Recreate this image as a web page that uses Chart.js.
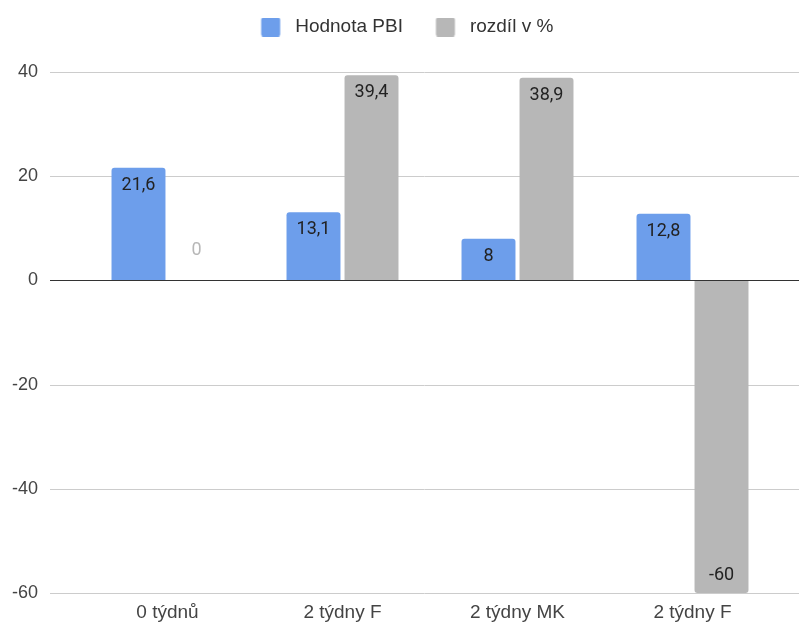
<!DOCTYPE html>
<html lang="cs">
<head>
<meta charset="utf-8">
<title>Hodnota PBI a rozdíl v %</title>
<script src="https://cdn.jsdelivr.net/npm/chart.js@4/dist/chart.umd.min.js"></script>
<style>
  html, body { margin: 0; padding: 0; background: #ffffff; }
  #wrap { width: 799px; height: 625px; }
</style>
</head>
<body>
<div id="wrap"><canvas id="chart" width="799" height="625"></canvas></div>
<script>
// Data
const categories = ['0 týdnů', '2 týdny F', '2 týdny MK', '2 týdny F'];
const hodnotaPBI = [21.6, 13.1, 8, 12.8];
const rozdilProcent = [0, 39.4, 38.9, -60];
const seriesNames = ['Hodnota PBI', 'rozdíl v %'];
const yRange = { min: -60, max: 40, step: 20 };

// Styles
const BLUE = '#6d9eeb';
const GRAY = '#b7b7b7';
const GRID_COLOR = '#cccccc';
const ZERO_COLOR = '#333333';
const GRID_LEFT = 50;
const SANS = "'Liberation Sans', Arial, sans-serif";
const LEGEND_MARKER_W = 40;    // room reserved for each legend marker
const LEGEND_GAP_BELOW = 25.5; // extra space between legend and plot

const formatValue = v => String(v).replace('.', ',');

// Legend markers: a rounded square placed at the right side of the marker slot
function swatch(color) {
  const c = document.createElement('canvas');
  c.width = LEGEND_MARKER_W; c.height = 19;
  const g = c.getContext('2d');
  g.fillStyle = color;
  g.beginPath();
  g.roundRect(15.5, 0, 19, 19, 2);
  g.fill();
  return c;
}
const swatches = [swatch(BLUE), swatch(GRAY)];

// Leaves extra room under the legend
const legendSpacing = {
  id: 'legendSpacing',
  afterInit(chart) {
    const legend = chart.legend;
    const fit = legend.fit;
    legend.fit = function () {
      fit.call(this);
      this.height += LEGEND_GAP_BELOW;
    };
  }
};

// Horizontal grid lines across the full plot width, zero line on top of the bars
const gridLines = {
  id: 'gridLines',
  beforeDatasetsDraw(chart) {
    const { ctx, scales: { y }, width } = chart;
    ctx.save();
    ctx.strokeStyle = GRID_COLOR;
    ctx.lineWidth = 1;
    y.ticks.forEach(t => {
      if (t.value === 0) return;
      const py = Math.round(y.getPixelForValue(t.value)) + 0.5;
      ctx.beginPath();
      ctx.moveTo(GRID_LEFT, py);
      ctx.lineTo(width, py);
      ctx.stroke();
    });
    ctx.restore();
  },
  afterDatasetsDraw(chart) {
    const { ctx, scales: { y }, width } = chart;
    const py = Math.round(y.getPixelForValue(0)) + 0.5;
    ctx.save();
    ctx.strokeStyle = ZERO_COLOR;
    ctx.lineWidth = 1.2;
    ctx.beginPath();
    ctx.moveTo(GRID_LEFT, py);
    ctx.lineTo(width, py);
    ctx.stroke();
    ctx.restore();
  }
};

// Value labels: inside the bar end, or above the baseline when the bar is too short
const valueLabels = {
  id: 'valueLabels',
  afterDatasetsDraw(chart) {
    const { ctx } = chart;
    ctx.save();
    ctx.font = "18px Roboto, 'Liberation Sans', sans-serif";
    ctx.textAlign = 'center';
    ctx.textBaseline = 'middle';
    chart.data.datasets.forEach((ds, di) => {
      const meta = chart.getDatasetMeta(di);
      meta.data.forEach((bar, i) => {
        const v = ds.data[i];
        const len = Math.abs(bar.base - bar.y);
        const up = v >= 0;
        let ty, color;
        if (len >= 36) {
          ty = up ? bar.y + 17.5 : bar.y - 17.5;
          color = '#222222';
        } else {
          ty = up ? bar.y - 30 : bar.y + 30;
          color = ds.backgroundColor;
        }
        ctx.fillStyle = color;
        ctx.fillText(formatValue(v), bar.x, ty);
      });
    });
    ctx.restore();
  }
};

Chart.defaults.font.family = SANS;

new Chart(document.getElementById('chart'), {
  type: 'bar',
  data: {
    labels: categories,
    datasets: [
      { label: seriesNames[0], data: hodnotaPBI, backgroundColor: BLUE, borderRadius: 3 },
      { label: seriesNames[1], data: rozdilProcent, backgroundColor: GRAY, borderRadius: 3 }
    ]
  },
  options: {
    responsive: false,
    animation: false,
    devicePixelRatio: 1,
    categoryPercentage: 0.663,
    barPercentage: 0.93,
    layout: { padding: 0 },
    plugins: {
      tooltip: { enabled: false },
      legend: {
        position: 'top',
        align: 'center',
        labels: {
          usePointStyle: true,
          pointStyleWidth: LEGEND_MARKER_W,
          boxHeight: 19,
          padding: 17.5,
          color: '#333333',
          font: { size: 19, family: SANS },
          generateLabels(chart) {
            const items = Chart.defaults.plugins.legend.labels.generateLabels(chart);
            items.forEach((it, i) => { it.pointStyle = swatches[i]; });
            return items;
          }
        }
      }
    },
    scales: {
      x: {
        grid: { display: false, drawTicks: false },
        border: { display: false },
        ticks: { color: '#444444', font: { size: 19 }, padding: 8 },
        afterFit(s) { s.height = 32; }
      },
      y: {
        min: yRange.min,
        max: yRange.max,
        grid: { display: false, drawTicks: true, tickLength: 34 },
        border: { display: false },
        ticks: {
          stepSize: yRange.step,
          color: '#444444',
          font: { size: 18 },
          padding: 8,
          callback: v => String(v)
        },
        afterFit(s) { s.width = 80; }
      },
      yRight: {
        type: 'linear',
        position: 'right',
        display: true,
        grid: { display: false, drawTicks: false },
        border: { display: false },
        ticks: { display: false, padding: 0 },
        afterFit(s) { s.width = 19; }
      }
    }
  },
  plugins: [legendSpacing, gridLines, valueLabels]
});
</script>
</body>
</html>
